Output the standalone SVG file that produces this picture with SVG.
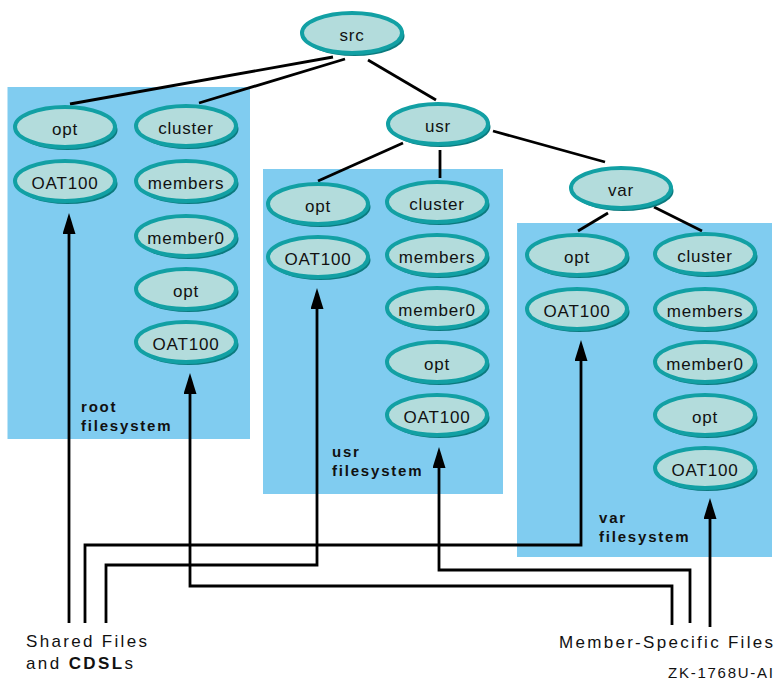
<svg xmlns="http://www.w3.org/2000/svg" width="775" height="683" viewBox="0 0 775 683">
  <defs>
    <style>
      .fs { fill: #80ccf0; }
      .sh { fill: #0b7a7e; }
      .nd { fill: #b3dcdc; stroke: #12a0a4; stroke-width: 4; }
      .lbl { font-family: "Liberation Sans", Arial, sans-serif; font-size: 17px; fill: #111; text-anchor: middle; letter-spacing: 0.8px; }
      .fsl { font-family: "Liberation Sans", Arial, sans-serif; font-size: 15px; font-weight: bold; fill: #111; letter-spacing: 1.8px; }
      .cap { font-family: "Liberation Sans", Arial, sans-serif; font-size: 17px; fill: #111; }
      .tag { font-family: "Liberation Sans", Arial, sans-serif; font-size: 15px; fill: #111; }
      .ln { fill: none; stroke: #000; stroke-width: 2.8; }
      .ar { fill: none; stroke: #000; stroke-width: 2.8; marker-end: url(#ah); }
    </style>
    <marker id="ah" markerUnits="userSpaceOnUse" markerWidth="22" markerHeight="13" refX="15" refY="6.5" orient="auto">
      <path d="M0,0 L21,6.5 L0,13 z" fill="#000"/>
    </marker>
    <!-- node shape: dark offset shadow under a teal-rimmed ellipse -->
    <g id="ell">
      <ellipse class="sh" cx="2.5" cy="3" rx="50" ry="20"/>
      <ellipse class="nd" cx="0" cy="0" rx="50" ry="20"/>
    </g>
  </defs>

  <rect width="775" height="683" fill="#fff"/>

  <!-- filesystem areas -->
  <g id="root-fs">
    <rect class="fs" x="7.5" y="87" width="242.5" height="352"/>
    <text class="fsl" x="81" y="412">root</text>
    <text class="fsl" x="81" y="431">filesystem</text>
  </g>
  <g id="usr-fs">
    <rect class="fs" x="263" y="169" width="240" height="325"/>
    <text class="fsl" x="332" y="457">usr</text>
    <text class="fsl" x="332" y="476">filesystem</text>
  </g>
  <g id="var-fs">
    <rect class="fs" x="517" y="223" width="255" height="334"/>
    <text class="fsl" x="599" y="523">var</text>
    <text class="fsl" x="599" y="542">filesystem</text>
  </g>

  <!-- tree edges and file links -->
  <g id="connectors">
    <path class="ln" d="M333,57 L70,104"/>
    <path class="ln" d="M345,59 L199,103"/>
    <path class="ln" d="M368,60 L436,100"/>
    <path class="ln" d="M403,143 L318,181"/>
    <path class="ln" d="M440,150 L440,178"/>
    <path class="ln" d="M493,131 L605,162"/>
    <path class="ln" d="M608,213 L578,231"/>
    <path class="ln" d="M654,207 L702,231"/>

    <path class="ar" d="M69,623 L69,219"/>
    <path class="ar" d="M85,623 L85,545 L581,545 L581,346"/>
    <path class="ar" d="M106,623 L106,565 L317,565 L317,294"/>
    <path class="ar" d="M672,625 L672,586 L190,586 L190,379"/>
    <path class="ar" d="M690,623 L690,570 L439,570 L439,453"/>
    <path class="ar" d="M710,627 L710,504"/>
  </g>

  <!-- top-level nodes -->
  <g id="src"><use href="#ell" x="352" y="33"/><text class="lbl" x="352" y="40.5">src</text></g>
  <g id="usr"><use href="#ell" x="438" y="124"/><text class="lbl" x="438" y="131.5">usr</text></g>
  <g id="var"><use href="#ell" x="621" y="188"/><text class="lbl" x="621" y="195.5">var</text></g>

  <!-- root filesystem nodes -->
  <g id="root-opt"><use href="#ell" x="65" y="127"/><text class="lbl" x="65" y="134.5">opt</text></g>
  <g id="root-oat"><use href="#ell" x="65" y="181"/><text class="lbl" x="65" y="188.5">OAT100</text></g>
  <g id="root-cluster"><use href="#ell" x="186" y="126"/><text class="lbl" x="186" y="133.5">cluster</text></g>
  <g id="root-members"><use href="#ell" x="186" y="181"/><text class="lbl" x="186" y="188.5">members</text></g>
  <g id="root-member0"><use href="#ell" x="186" y="236"/><text class="lbl" x="186" y="243.5">member0</text></g>
  <g id="root-cl-opt"><use href="#ell" x="186" y="289"/><text class="lbl" x="186" y="296.5">opt</text></g>
  <g id="root-cl-oat"><use href="#ell" x="186" y="342"/><text class="lbl" x="186" y="349.5">OAT100</text></g>

  <!-- usr filesystem nodes -->
  <g id="usr-opt"><use href="#ell" x="318" y="204"/><text class="lbl" x="318" y="211.5">opt</text></g>
  <g id="usr-oat"><use href="#ell" x="318" y="257"/><text class="lbl" x="318" y="264.5">OAT100</text></g>
  <g id="usr-cluster"><use href="#ell" x="437" y="202"/><text class="lbl" x="437" y="209.5">cluster</text></g>
  <g id="usr-members"><use href="#ell" x="437" y="255"/><text class="lbl" x="437" y="262.5">members</text></g>
  <g id="usr-member0"><use href="#ell" x="437" y="308"/><text class="lbl" x="437" y="315.5">member0</text></g>
  <g id="usr-cl-opt"><use href="#ell" x="437" y="362"/><text class="lbl" x="437" y="369.5">opt</text></g>
  <g id="usr-cl-oat"><use href="#ell" x="437" y="415"/><text class="lbl" x="437" y="422.5">OAT100</text></g>

  <!-- var filesystem nodes -->
  <g id="var-opt"><use href="#ell" x="577" y="255"/><text class="lbl" x="577" y="262.5">opt</text></g>
  <g id="var-oat"><use href="#ell" x="577" y="309"/><text class="lbl" x="577" y="316.5">OAT100</text></g>
  <g id="var-cluster"><use href="#ell" x="705" y="254"/><text class="lbl" x="705" y="261.5">cluster</text></g>
  <g id="var-members"><use href="#ell" x="705" y="309"/><text class="lbl" x="705" y="316.5">members</text></g>
  <g id="var-member0"><use href="#ell" x="705" y="362"/><text class="lbl" x="705" y="369.5">member0</text></g>
  <g id="var-cl-opt"><use href="#ell" x="705" y="415"/><text class="lbl" x="705" y="422.5">opt</text></g>
  <g id="var-cl-oat"><use href="#ell" x="705" y="468"/><text class="lbl" x="705" y="475.5">OAT100</text></g>

  <!-- captions -->
  <g id="captions">
    <text class="cap" x="26" y="647" textLength="121" lengthAdjust="spacing">Shared Files</text>
    <text class="cap" x="26" y="669" textLength="107" lengthAdjust="spacing">and <tspan font-weight="bold">CDSL</tspan>s</text>
    <text class="cap" x="559" y="648" textLength="214" lengthAdjust="spacing">Member-Specific Files</text>
    <text class="tag" x="668" y="678" textLength="105" lengthAdjust="spacing">ZK-1768U-AI</text>
  </g>
</svg>
